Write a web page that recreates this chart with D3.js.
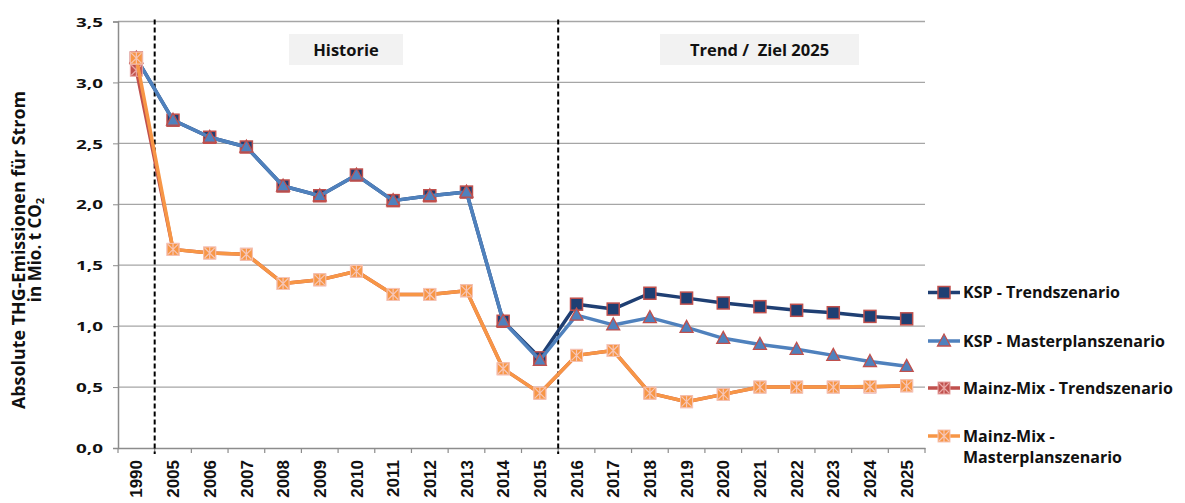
<!DOCTYPE html>
<html>
<head>
<meta charset="utf-8">
<script src="https://cdn.jsdelivr.net/npm/d3@7"></script>
<style>
  body { margin: 0; background: #fff; }
  svg { display: block; }
  text { font-family: "Open Sans", sans-serif; font-weight: bold; fill: #111; }
</style>
</head>
<body>
<svg id="chart" width="1185" height="503"></svg>
<script>
// Jahre (Kategorien)
const years = ["1990","2005","2006","2007","2008","2009","2010","2011","2012","2013","2014","2015",
               "2016","2017","2018","2019","2020","2021","2022","2023","2024","2025"];

// Absolute THG-Emissionen für Strom, Mio. t CO2
const kspTrend      = [3.20,2.69,2.55,2.47,2.15,2.07,2.24,2.03,2.07,2.10,1.04,0.74,
                       1.18,1.14,1.27,1.23,1.19,1.16,1.13,1.11,1.08,1.06];
const kspMaster     = [3.20,2.69,2.55,2.47,2.15,2.07,2.24,2.03,2.07,2.10,1.04,0.72,
                       1.09,1.01,1.07,0.99,0.90,0.85,0.81,0.76,0.71,0.67];
const mainzTrend    = [3.10,1.63,1.60,1.59,1.35,1.38,1.45,1.26,1.26,1.29,0.65,0.45,
                       0.76,0.80,0.45,0.38,0.44,0.50,0.50,0.50,0.50,0.51];
const mainzMaster   = [3.20,1.63,1.60,1.59,1.35,1.38,1.45,1.26,1.26,1.29,0.65,0.45,
                       0.76,0.80,0.45,0.38,0.44,0.50,0.50,0.50,0.505,0.51];

const yTicks = [0,0.5,1.0,1.5,2.0,2.5,3.0,3.5];
const seriesNames = ["KSP - Trendszenario","KSP - Masterplanszenario","Mainz-Mix - Trendszenario","Mainz-Mix - Masterplanszenario"];
const periodLabels = ["Historie","Trend /  Ziel 2025"];

const series = [
  {name: seriesNames[0], values: kspTrend,    line: "#1F3F73", marker: "square",   fill: "#1F3F73", stroke: "#C0504D"},
  {name: seriesNames[1], values: kspMaster,   line: "#4F81BD", marker: "triangle", fill: "#4F81BD", stroke: "#C0504D"},
  {name: seriesNames[2], values: mainzTrend,  line: "#C0504D", marker: "squarex",  fill: "#C0504D", stroke: "#E9A8A6"},
  {name: seriesNames[3], values: mainzMaster, line: "#F79646", marker: "squarex",  fill: "#F79646", stroke: "#F6C6B8"}
];

const svg = d3.select("#chart");
const plot = {left: 118, right: 925, top: 21.5, bottom: 448};

const x = d3.scaleBand().domain(years).range([plot.left, plot.right]);
const y = d3.scaleLinear().domain([0, 3.5]).range([plot.bottom, plot.top]);
const cx = d => x(d) + x.bandwidth() / 2;

// Gitterlinien
svg.append("g").selectAll("line").data(yTicks.filter(t => t > 0)).join("line")
  .attr("x1", plot.left).attr("x2", plot.right)
  .attr("y1", d => y(d)).attr("y2", d => y(d))
  .attr("stroke", "#A6A6A6").attr("stroke-width", 1.3);

// Y-Achse
const yAxis = d3.axisLeft(y).tickValues(yTicks).tickSize(5)
  .tickFormat(d => d3.format(".1f")(d).replace(".", ","));
const gy = svg.append("g").attr("transform", `translate(${plot.left},0)`).call(yAxis);
gy.select(".domain").attr("stroke", "#8C8C8C").attr("stroke-width", 1.5);
gy.selectAll(".tick line").attr("stroke", "#8C8C8C");
gy.selectAll(".tick text").attr("x", 0).attr("dy", "0.36em")
  .attr("transform", "translate(-15,0) scale(1.45,1)")
  .style("font-size", "13px").style("font-family", "'Open Sans', sans-serif").style("font-weight", "bold").attr("fill", "#111");

// X-Achse
const xAxis = d3.axisBottom(x).tickSize(0);
const gx = svg.append("g").attr("transform", `translate(0,${plot.bottom})`).call(xAxis);
gx.select(".domain").attr("stroke", "#8C8C8C").attr("stroke-width", 1.5);
gx.selectAll(".tick text")
  .attr("transform", "rotate(-90)")
  .attr("x", -12).attr("y", 0).attr("dy", "0.36em")
  .attr("text-anchor", "end")
  .style("font-size", "17px").style("font-family", "'Liberation Sans', Arial, sans-serif").style("font-weight", "bold").attr("fill", "#111");
// Teilstriche an den Kategoriegrenzen
const bounds = years.map(d => x(d)).concat([plot.right]);
gx.append("g").selectAll("line").data(bounds).join("line")
  .attr("x1", d => d).attr("x2", d => d).attr("y1", 0).attr("y2", 5)
  .attr("stroke", "#8C8C8C").attr("stroke-width", 1.2);

// Trennlinien Historie / Trend
const dividers = [x("2005"), x("2016")];
svg.append("g").selectAll("line").data(dividers).join("line")
  .attr("x1", d => d).attr("x2", d => d).attr("y1", plot.top - 2).attr("y2", plot.bottom + 6)
  .attr("stroke", "#000").attr("stroke-width", 2).attr("stroke-dasharray", "5,3");

// Zeitraum-Beschriftungen
const boxes = [
  {label: periodLabels[0], x0: 289, x1: 403},
  {label: periodLabels[1], x0: 660, x1: 859}
];
const bg = svg.append("g").selectAll("g").data(boxes).join("g");
bg.append("rect").attr("x", d => d.x0).attr("y", 34).attr("width", d => d.x1 - d.x0).attr("height", 31)
  .attr("fill", "#F2F2F2");
bg.append("text").attr("x", d => (d.x0 + d.x1) / 2).attr("y", 50).attr("dy", "0.36em")
  .attr("text-anchor", "middle").style("font-size", "16.5px").style("white-space", "pre")
  .attr("fill", "#3A3A3A").text(d => d.label);

// Linien und Marker
const line = d3.line().x((d, i) => cx(years[i])).y(d => y(d));

function drawMarker(g, type, fill, stroke) {
  if (type === "square") {
    g.append("rect").attr("x", -6).attr("y", -6).attr("width", 12).attr("height", 12)
      .attr("fill", fill).attr("stroke", stroke).attr("stroke-width", 1.5);
  } else if (type === "triangle") {
    g.append("path").attr("d", "M0,-7L6.5,5L-6.5,5Z")
      .attr("fill", fill).attr("stroke", stroke).attr("stroke-width", 1.3);
  } else if (type === "squarex") {
    g.append("rect").attr("x", -6).attr("y", -6).attr("width", 12).attr("height", 12)
      .attr("fill", fill).attr("stroke", stroke).attr("stroke-width", 1);
    g.append("path").attr("d", "M-5,-5L5,5M-5,5L5,-5M0,-6L0,6")
      .attr("stroke", stroke).attr("stroke-width", 1.2).attr("fill", "none");
  }
}

series.forEach(s => {
  const g = svg.append("g");
  g.append("path").datum(s.values).attr("d", line)
    .attr("fill", "none").attr("stroke", s.line).attr("stroke-width", 3.5).attr("stroke-linejoin", "round");
  g.selectAll("g.m").data(s.values).join("g").attr("class", "m")
    .attr("transform", (d, i) => `translate(${cx(years[i])},${y(d)})`)
    .each(function() { drawMarker(d3.select(this), s.marker, s.fill, s.stroke); });
});

// Legende
const legY = [292.5, 341, 388, 436];
const leg = svg.append("g").selectAll("g").data(series).join("g")
  .attr("transform", (d, i) => `translate(928,${legY[i]})`);
leg.append("line").attr("x1", 0).attr("x2", 32).attr("stroke", d => d.line).attr("stroke-width", 3.5);
leg.append("g").attr("transform", "translate(16,0)")
  .each(function(d) { drawMarker(d3.select(this), d.marker, d.fill, d.stroke); });
leg.append("text").attr("x", 35).style("font-size", "16px")
  .each(function(d) {
    const t = d3.select(this);
    const parts = d.name === seriesNames[3] ? ["Mainz-Mix -", "Masterplanszenario"] : [d.name];
    parts.forEach((p, k) => t.append("tspan").attr("x", 35).attr("dy", k === 0 ? "0.36em" : "21px").text(p));
  });

// Y-Achsentitel (zweizeilig)
const yt = svg.append("text").attr("transform", "translate(25,250) rotate(-90)")
  .attr("text-anchor", "middle").style("font-size", "17px");
yt.append("tspan").attr("x", 0).attr("y", 0)
  .attr("textLength", 318).attr("lengthAdjust", "spacingAndGlyphs")
  .text("Absolute THG-Emissionen für Strom");
const yt2 = svg.append("text").attr("transform", "translate(41,250) rotate(-90)")
  .attr("text-anchor", "middle").style("font-size", "17px");
yt2.append("tspan").text("in Mio. t CO");
yt2.append("tspan").attr("dy", "0.25em").style("font-size", "11px").text("2");
</script>
</body>
</html>
